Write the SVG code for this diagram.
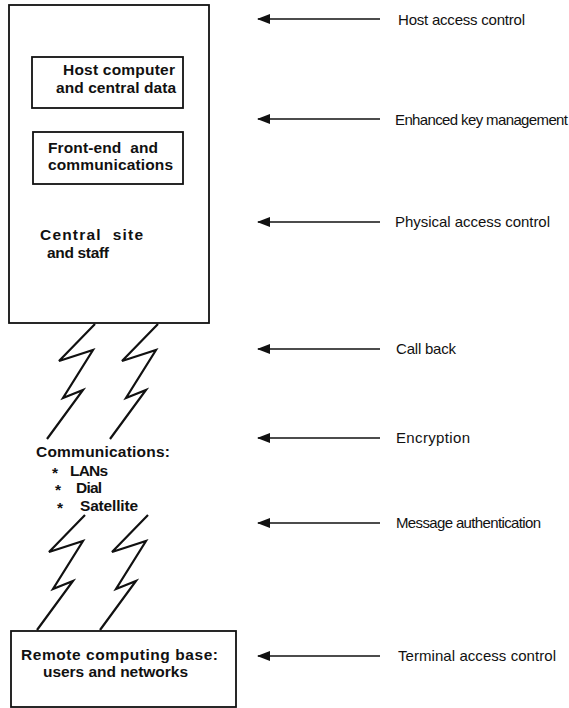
<svg xmlns="http://www.w3.org/2000/svg" width="569" height="708" viewBox="0 0 569 708">
  <style>
    .box { fill: none; stroke: #111; stroke-width: 1.8; }
    .bolt { fill: none; stroke: #111; stroke-width: 2.2; stroke-linejoin: miter; }
    .lbl { font-family: "Liberation Sans", Arial, sans-serif; font-weight: bold; font-size: 15.5px; fill: #111; }
    .ctl { font-family: "Liberation Sans", Arial, sans-serif; font-size: 15px; fill: #111; }
    .arrow { stroke: #111; stroke-width: 1.6; fill: none; }
  </style>
  <defs>
    <marker id="head" markerWidth="13" markerHeight="10" refX="12" refY="5" orient="auto" markerUnits="userSpaceOnUse">
      <path d="M0,0 L13,5 L0,10 Z" fill="#111"/>
    </marker>
    <path id="boltShape" d="M0,0 L-36,37 L-2,26 L-32,74 L-12,66 L-48,115"/>
  </defs>
  <rect width="569" height="708" fill="#fff"/>

  <!-- central site -->
  <g id="central-site">
    <rect class="box" x="9" y="5" width="200" height="318"/>
    <text class="lbl" x="40" y="240" textLength="103" xml:space="preserve">Central  site</text>
    <text class="lbl" x="47" y="258" textLength="62">and staff</text>
  </g>
  <g id="host-computer">
    <rect class="box" x="32" y="57" width="151" height="51"/>
    <text class="lbl" x="63" y="75" textLength="112">Host computer</text>
    <text class="lbl" x="56" y="93" textLength="120">and central data</text>
  </g>
  <g id="front-end">
    <rect class="box" x="33" y="132" width="150" height="52"/>
    <text class="lbl" x="48" y="153" textLength="110" xml:space="preserve">Front-end  and</text>
    <text class="lbl" x="48" y="170" textLength="125">communications</text>
  </g>

  <!-- communications links -->
  <g id="communications">
    <text class="lbl" x="36" y="457" textLength="134">Communications:</text>
    <text class="lbl" x="52" y="478">*</text>
    <text class="lbl" x="70" y="476" textLength="38">LANs</text>
    <text class="lbl" x="55" y="495">*</text>
    <text class="lbl" x="76" y="493" textLength="26">Dial</text>
    <text class="lbl" x="57" y="513">*</text>
    <text class="lbl" x="80" y="511" textLength="58">Satellite</text>
  </g>

  <!-- remote base -->
  <g id="remote-base">
    <rect class="box" x="11" y="631" width="225" height="76"/>
    <text class="lbl" x="21" y="660" textLength="197">Remote computing base:</text>
    <text class="lbl" x="43" y="677" textLength="145">users and networks</text>
  </g>

  <g id="connectors">
    <!-- lightning links between site and remote base -->
    <use href="#boltShape" class="bolt" x="95" y="324"/>
    <use href="#boltShape" class="bolt" x="158" y="324"/>
    <use href="#boltShape" class="bolt" x="85" y="515"/>
    <use href="#boltShape" class="bolt" x="148" y="515"/>

    <!-- control arrows -->
    <line class="arrow" x1="380" y1="19" x2="258" y2="19" marker-end="url(#head)"/>
    <line class="arrow" x1="380" y1="119" x2="258" y2="119" marker-end="url(#head)"/>
    <line class="arrow" x1="380" y1="222" x2="258" y2="222" marker-end="url(#head)"/>
    <line class="arrow" x1="380" y1="349" x2="258" y2="349" marker-end="url(#head)"/>
    <line class="arrow" x1="380" y1="438" x2="258" y2="438" marker-end="url(#head)"/>
    <line class="arrow" x1="380" y1="523" x2="258" y2="523" marker-end="url(#head)"/>
    <line class="arrow" x1="380" y1="656" x2="258" y2="656" marker-end="url(#head)"/>
  </g>

  <g id="controls">
    <text class="ctl" x="398" y="25" textLength="127">Host access control</text>
    <text class="ctl" x="395" y="125" textLength="173">Enhanced key management</text>
    <text class="ctl" x="395" y="227" textLength="155">Physical access control</text>
    <text class="ctl" x="396" y="354" textLength="60">Call back</text>
    <text class="ctl" x="396" y="443" textLength="74">Encryption</text>
    <text class="ctl" x="396" y="528" textLength="145">Message authentication</text>
    <text class="ctl" x="398" y="661" textLength="158">Terminal access control</text>
  </g>
</svg>
